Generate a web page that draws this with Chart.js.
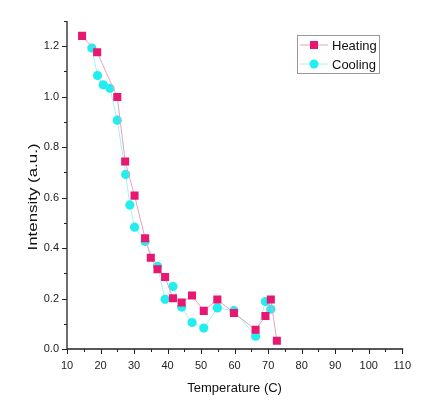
<!DOCTYPE html>
<html><head><meta charset="utf-8">
<script src="https://cdn.jsdelivr.net/npm/chart.js@4"></script>
<style>html,body{margin:0;padding:0;background:#fff}#wrap{width:421px;height:400px}</style>
</head><body><div id="wrap"><canvas id="c" width="421" height="400"></canvas></div>
<script>
const heatingT = [14.5, 19.0, 25.0, 27.35, 30.15, 33.3, 35.0, 37.0, 39.26, 41.6, 44.2, 47.3, 50.8, 54.85, 59.8, 66.25, 69.2, 70.8, 72.6];
const heatingI = [1.241, 1.176, 0.999, 0.743, 0.608, 0.439, 0.362, 0.316, 0.285, 0.201, 0.184, 0.212, 0.151, 0.196, 0.143, 0.076, 0.131, 0.196, 0.033];
const coolingT = [17.4, 19.1, 20.8, 22.8, 25.0, 27.5, 28.75, 30.15, 33.3, 37.0, 39.26, 41.6, 44.2, 47.3, 50.8, 54.85, 59.8, 66.25, 69.2, 70.8];
const coolingI = [1.193, 1.084, 1.047, 1.033, 0.907, 0.692, 0.571, 0.483, 0.426, 0.328, 0.197, 0.248, 0.166, 0.105, 0.083, 0.163, 0.152, 0.051, 0.188, 0.158];
const seriesNames = ['Heating', 'Cooling'];
const xTitle = 'Temperature (C)';
const yTitle = 'Intensity (a.u.)';

const FONT = '"Liberation Sans", Arial, sans-serif';
const heatCol = '#e8176f', heatLine = '#eaa0c0';
const coolCol = '#22eef0', coolLine = '#a8f2f2';

const toPts = (xs, ys) => xs.map((x, i) => ({x, y: ys[i]}));

const decor = {
  id: 'decor',
  afterDraw(chart) {
    const {ctx, chartArea: a, scales: {x, y}} = chart;
    ctx.save();
    ctx.strokeStyle = '#222';
    ctx.lineWidth = 1.3;
    ctx.beginPath();
    ctx.moveTo(a.left, a.top); ctx.lineTo(a.left, a.bottom); ctx.lineTo(a.right + 1, a.bottom);
    ctx.stroke();
    ctx.lineWidth = 1;
    ctx.beginPath();
    for (let v = 10; v <= 110.001; v += 5) {
      const px = Math.round(x.getPixelForValue(v)) + 0.5;
      const len = (Math.round(v) % 10 === 0) ? 5 : 3;
      ctx.moveTo(px, a.bottom); ctx.lineTo(px, a.bottom + len);
    }
    for (let k = 0; k <= 13; k++) {
      const py = Math.round(y.getPixelForValue(k / 10)) + 0.5;
      const len = (k % 2 === 0) ? 5 : 3;
      ctx.moveTo(a.left, py); ctx.lineTo(a.left - len, py);
    }
    ctx.stroke();
    // axis titles
    ctx.fillStyle = '#111';
    ctx.font = '13px ' + FONT;
    ctx.textAlign = 'center'; ctx.textBaseline = 'middle';
    ctx.fillText(xTitle, (a.left + a.right) / 2, 388);
    ctx.save();
    ctx.translate(33, 197);
    ctx.scale(1, 1.3);
    ctx.rotate(-Math.PI / 2);
    ctx.fillText(yTitle, 0, 0);
    ctx.restore();
    // legend
    const bx = 297, by = 35, bw = 82, bh = 38;
    ctx.strokeStyle = '#999'; ctx.lineWidth = 1;
    ctx.strokeRect(bx + 0.5, by + 0.5, bw, bh);
    const ds = chart.data.datasets;
    const rows = [45, 64];
    ds.forEach((d, i) => {
      const yy = rows[i];
      ctx.strokeStyle = d.borderColor; ctx.lineWidth = 1;
      ctx.beginPath(); ctx.moveTo(300, yy); ctx.lineTo(328, yy); ctx.stroke();
      ctx.fillStyle = d.pointBackgroundColor;
      if (d.pointStyle === 'rect') { ctx.fillRect(310, yy - 4, 8, 8); }
      else { ctx.beginPath(); ctx.arc(314, yy, 4.5, 0, Math.PI * 2); ctx.fill(); }
      ctx.fillStyle = '#111';
      ctx.font = '13px ' + FONT;
      ctx.textAlign = 'left'; ctx.textBaseline = 'middle';
      ctx.fillText(d.label, 332, yy + 1);
    });
    ctx.restore();
  }
};

new Chart(document.getElementById('c'), {
  type: 'scatter',
  data: {
    datasets: [
      { label: seriesNames[0], data: toPts(heatingT, heatingI), showLine: true,
        borderColor: heatLine, borderWidth: 1, pointStyle: 'rect', pointRadius: 5.7,
        pointBackgroundColor: heatCol, pointBorderColor: heatCol, pointBorderWidth: 0 },
      { label: seriesNames[1], data: toPts(coolingT, coolingI), showLine: true,
        borderColor: coolLine, borderWidth: 1, pointStyle: 'circle', pointRadius: 4.6,
        pointBackgroundColor: coolCol, pointBorderColor: coolCol, pointBorderWidth: 0 }
    ]
  },
  options: {
    responsive: false, animation: false,
    layout: { padding: { top: 21, right: 18, left: 0, bottom: 0 } },
    plugins: { legend: { display: false }, tooltip: { enabled: false } },
    scales: {
      x: { type: 'linear', min: 10, max: 110,
        afterFit: s => { s.height = 51; },
        grid: { display: false, drawTicks: false }, border: { display: false },
        ticks: { stepSize: 5, autoSkip: false, maxRotation: 0, padding: 10, color: '#222',
          font: { family: FONT, size: 11 },
          callback: v => (Math.round(v) % 10 === 0 ? String(Math.round(v)) : '') } },
      y: { type: 'linear', min: 0, max: 1.3,
        afterFit: s => { s.width = 67; },
        grid: { display: false, drawTicks: false }, border: { display: false },
        ticks: { stepSize: 0.1, autoSkip: false, padding: 8, color: '#222',
          font: { family: FONT, size: 11 },
          callback: v => (Math.round(v * 10) % 2 === 0 ? v.toFixed(1) : '') } }
    }
  },
  plugins: [decor]
});
</script></body></html>
